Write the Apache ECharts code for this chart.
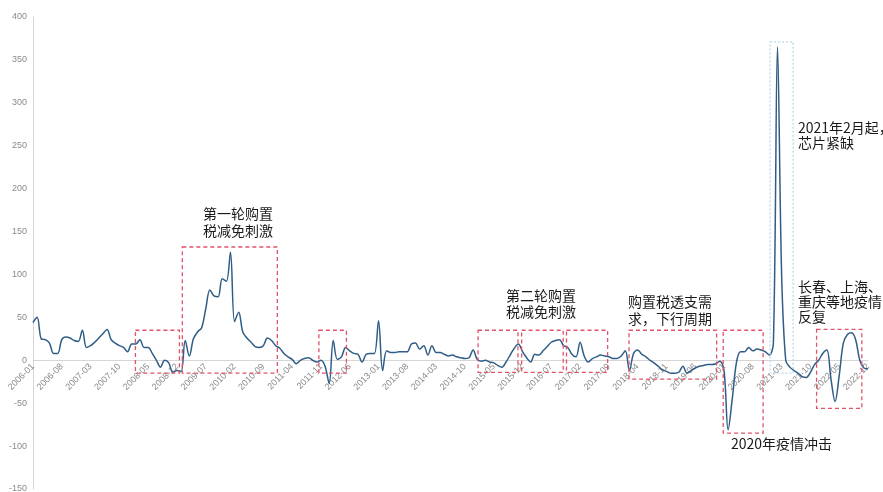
<!DOCTYPE html>
<html>
<head>
<meta charset="utf-8">
<script src="https://cdn.jsdelivr.net/npm/echarts@6/dist/echarts.min.js"></script>
<style>
html,body{margin:0;padding:0;background:#fff;}
#chart{width:883px;height:492px;}
</style>
</head>
<body>
<div id="chart"></div>
<script>
// Month categories 2006-01 .. 2022-12
const months = [];
for (let y = 2006; y <= 2022; y++) {
  for (let m = 1; m <= 12; m++) months.push(y + '-' + (m < 10 ? '0' + m : m));
}

// Series values (monthly)
const values = [
  44, 50, 25, 24, 20, 8, 8, 24, 27, 26, 23, 22,
  35, 15, 17, 21, 26, 31, 36, 24, 20, 17, 15, 10,
  19, 19, 24, 15, 15, 8, 0, -8, 0, -3, -14, -12,
  -13, 23, 5, 25, 33, 38, 60, 82, 75, 74, 95, 92,
  126, 45, 56, 33, 26, 21, 16, 15, 17, 26, 23, 17,
  14, 8, 4, 1, -4, 0, 2, 3, 0, -2, 0, -7,
  -27, 23, 1, 4, 15, 11, 8, 7, -2, 7, 8, 8,
  46, -12, 11, 9, 9, 10, 10, 10, 19, 20, 13, 17,
  6, 17, 9, 9, 7, 5, 6, 4, 3, 2, 3, 12,
  1, -1, 0, -2, -3, -6, -8, -2, 6, 14, 19, 10,
  3, -2, 7, 6, 11, 16, 21, 23, 24, 17, 15, 7,
  4, 21, 5, -2, 2, 4, 6, 5, 4, 2, 2, 5,
  11, -12, 8, 12, 7, 4, 0, -3, -7, -11, -13, -15,
  -15, -14, -7, -15, -12, -9, -7, -6, -5, -5, -4, -1,
  -12, -81, -45, -3, 10, 10, 15, 11, 13, 12, 10, 6,
  20, 365, 100, 0, -8, -12, -15, -19, -20, -14, -5, 0,
  8, 12, -22, -48, -18, 20, 30, 32, 24, 0, -9, -10
];

// Y-axis tick settings
const yMin = -150, yMax = 400, yStep = 50;
const labelEvery = 7;

// Highlighted periods: [start index, end index, low value, high value]
const redRanges = [
  [24.9, 35.6, -15, 35],
  [36.3, 59.4, -15, 132],
  [69.5, 76.2, -15, 35],
  [108.2, 117.9, -14, 35],
  [118.8, 128.9, -14, 35],
  [129.7, 139.7, -14, 35],
  [144.9, 166.2, -22, 35],
  [167.8, 177.5, -85, 35],
  [190.5, 201.5, -56, 36]
];
const blueRanges = [
  [179.2, 184.8, -15, 371]
];

// Annotation texts
const notes = [
  '第一轮购置\n税减免刺激',
  '第二轮购置\n税减免刺激',
  '购置税透支需\n求，下行周期',
  '2020年疫情冲击',
  '2021年2月起，\n芯片紧缺',
  '长春、上海、\n重庆等地疫情\n反复'
];

const chart = echarts.init(document.getElementById('chart'), null, {renderer: 'canvas'});

const textFont = '14px "Noto Sans CJK SC", sans-serif';
function note(i, x, y, align, lh) {
  return {
    type: 'text', x: x, y: y, z: 100,
    style: {
      text: notes[i], font: textFont, fill: '#1a1a1a',
      textAlign: align, textVerticalAlign: 'top', lineHeight: lh
    }
  };
}

chart.setOption({
  animation: false,
  backgroundColor: '#ffffff',
  grid: {left: 33, right: 15, top: 17, bottom: 3, containLabel: false, outerBoundsMode: 'none'},
  xAxis: {
    type: 'category',
    data: months,
    boundaryGap: false,
    position: 'bottom',
    axisTick: {show: false},
    axisLine: {onZero: false, lineStyle: {color: '#d6d6d6', width: 1}},
    axisLabel: {
      show: true, interval: labelEvery - 1, rotate: 45, fontSize: 9, color: '#8a8a8a', margin: 5,
      fontFamily: 'Liberation Sans, Arial, sans-serif'
    }
  },
  yAxis: {
    type: 'value', min: yMin, max: yMax, interval: yStep,
    splitLine: {show: false},
    axisTick: {show: false},
    axisLine: {show: true, onZero: false, lineStyle: {color: '#d6d6d6', width: 1}},
    axisLabel: {fontSize: 9, color: '#8a8a8a', margin: 6,
      fontFamily: 'Liberation Sans, Arial, sans-serif'}
  },
  series: [
    {
      type: 'line',
      data: values,
      showSymbol: false,
      smooth: 0.35,
      lineStyle: {color: '#2f5d87', width: 1.5},
      z: 3
    }
  ]
});

// Convert positions through the chart's own scales
function xPix(f) {
  const a = Math.floor(f), b = Math.min(a + 1, months.length - 1);
  const pa = chart.convertToPixel({xAxisIndex: 0}, months[a]);
  const pb = chart.convertToPixel({xAxisIndex: 0}, months[b]);
  return pa + (pb - pa) * (f - a);
}
function yPix(v) { return chart.convertToPixel({yAxisIndex: 0}, v); }

function boxes(ranges, color, dash) {
  return ranges.map(r => {
    const x1 = xPix(r[0]), x2 = xPix(r[1]);
    const y1 = yPix(r[3]), y2 = yPix(r[2]);
    return {
      type: 'rect', z: 50, silent: true,
      shape: {x: x1, y: y1, width: x2 - x1, height: y2 - y1},
      style: {fill: 'none', stroke: color, lineWidth: 1.3, lineDash: dash}
    };
  });
}

// Place the category axis on the zero line of the value axis
const zeroOffset = yPix(0) - yPix(yMin);

chart.setOption({
  xAxis: {offset: zeroOffset},
  graphic: [].concat(
    boxes(redRanges, '#e2536a', [4, 3]),
    boxes(blueRanges, '#b9d6ea', [2, 2]),
    [
      note(0, 238, 205.5, 'center', 17),
      note(1, 541, 288, 'center', 16),
      note(2, 628, 293, 'left', 17),
      note(3, 731, 437, 'left', 14),
      note(4, 798, 120, 'left', 15),
      note(5, 798, 279, 'left', 15)
    ]
  )
});
</script>
</body>
</html>
